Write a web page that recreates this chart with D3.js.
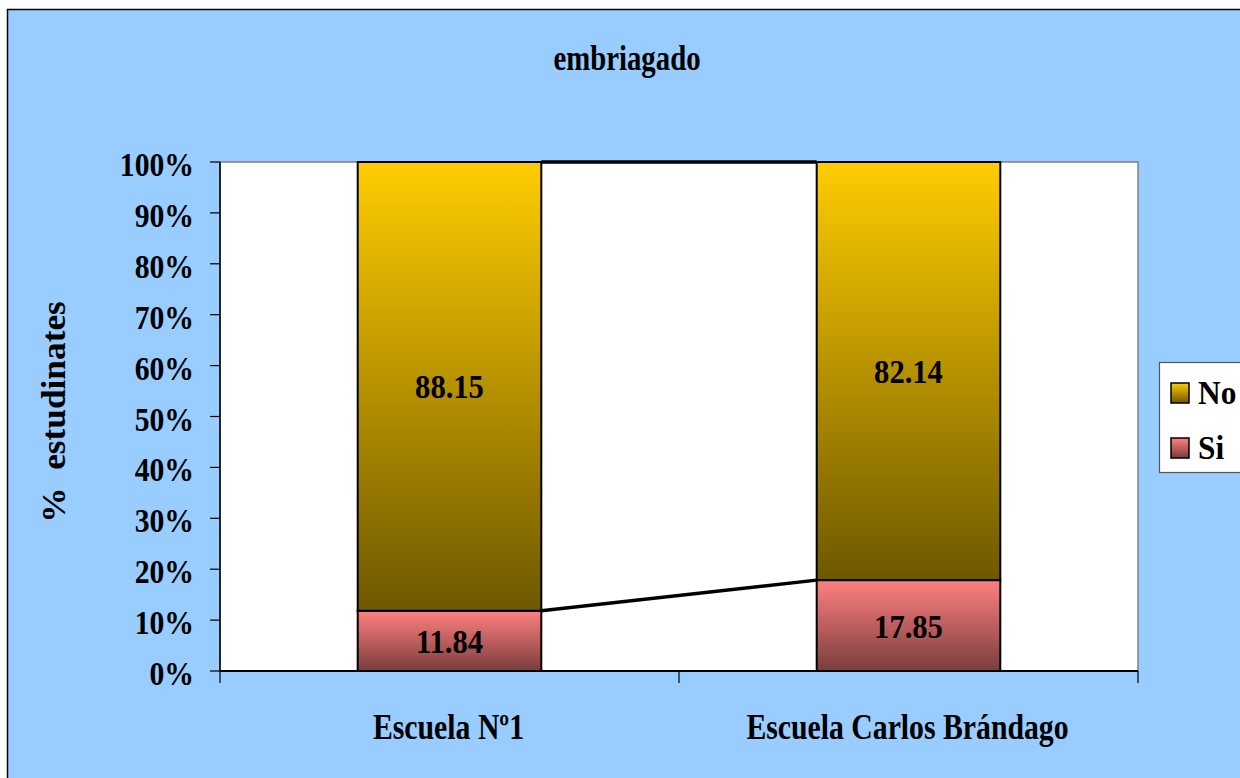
<!DOCTYPE html>
<html>
<head>
<meta charset="utf-8">
<script src="https://cdn.jsdelivr.net/npm/d3@7"></script>
<style>
  html, body { margin: 0; padding: 0; background: #ffffff; }
  svg { display: block; }
  text { font-family: "Liberation Serif", "Times New Roman", serif; font-weight: bold; fill: #000; }
</style>
</head>
<body>
<svg id="chart" width="1240" height="778"></svg>
<script>
// Chart data
const categories = ["Escuela Nº1", "Escuela Carlos Brándago"];
const seriesNames = ["Si", "No"];            // stacking order, bottom to top
const siValues = [11.84, 17.85];
const noValues = [88.15, 82.14];
const yTicks = [0, 0.1, 0.2, 0.3, 0.4, 0.5, 0.6, 0.7, 0.8, 0.9, 1.0];
const legendOrder = ["No", "Si"];
const titleText = "embriagado";
const yAxisTitle = "%  estudinates";

const svg = d3.select("#chart");

// Chart area background and frame
svg.append("rect")
  .attr("x", 7.5).attr("y", 9.5)
  .attr("width", 1260).attr("height", 800)
  .attr("fill", "#99CCFF").attr("stroke", "#000").attr("stroke-width", 1.5);

const plot = { left: 220, right: 1138, top: 162, bottom: 671 };

// Gradients per series (light at top, dark shade at bottom)
const defs = svg.append("defs");
const gradColors = { No: ["#FFCC00", "#6E5800"], Si: ["#FF8080", "#7A3D3D"] };
Object.entries(gradColors).forEach(([k, c]) => {
  const g = defs.append("linearGradient").attr("id", "grad-" + k)
    .attr("x1", 0).attr("y1", 0).attr("x2", 0).attr("y2", 1);
  g.append("stop").attr("offset", "0%").attr("stop-color", c[0]);
  g.append("stop").attr("offset", "100%").attr("stop-color", c[1]);
});

// Plot area
svg.append("rect")
  .attr("x", plot.left).attr("y", plot.top)
  .attr("width", plot.right - plot.left).attr("height", plot.bottom - plot.top)
  .attr("fill", "#fff").attr("stroke", "#808080").attr("stroke-width", 1.5);

const x = d3.scaleBand().domain(categories)
  .range([plot.left, plot.right]).paddingInner(0.6).paddingOuter(0.3);
const xOuter = d3.scaleBand().domain(categories).range([plot.left, plot.right]);
const y = d3.scaleLinear().domain([0, 1]).range([plot.bottom, plot.top]);

// 100% stacked layout
const rows = categories.map((c, i) => ({ cat: c, Si: siValues[i], No: noValues[i] }));
const stacked = d3.stack().keys(seriesNames).offset(d3.stackOffsetExpand)(rows);

// Series lines between adjacent bars
const lineLayer = svg.append("g");
stacked.forEach(s => {
  for (let i = 0; i < s.length - 1; i++) {
    lineLayer.append("line")
      .attr("x1", x(categories[i]) + x.bandwidth())
      .attr("y1", y(s[i][1]))
      .attr("x2", x(categories[i + 1]))
      .attr("y2", y(s[i + 1][1]))
      .attr("stroke", "#000").attr("stroke-width", 3.5);
  }
});

// Bars
stacked.forEach(s => {
  const g = svg.append("g");
  g.selectAll("rect").data(s).join("rect")
    .attr("x", d => x(d.data.cat))
    .attr("y", d => y(d[1]))
    .attr("width", x.bandwidth())
    .attr("height", d => y(d[0]) - y(d[1]))
    .attr("fill", `url(#grad-${s.key})`)
    .attr("stroke", "#000").attr("stroke-width", 2);
  // Value labels
  g.selectAll("text").data(s).join("text")
    .attr("transform", d => `translate(${x(d.data.cat) + x.bandwidth() / 2},${(y(d[0]) + y(d[1])) / 2 + 12}) scale(0.9,1)`)
    .attr("text-anchor", "middle")
    .style("font-size", "34px")
    .text(d => d3.format(".2f")(d.data[s.key]));
});

// Y axis
const yAxis = svg.append("g");
yAxis.append("line")
  .attr("x1", plot.left).attr("x2", plot.left)
  .attr("y1", plot.top).attr("y2", plot.bottom)
  .attr("stroke", "#000").attr("stroke-width", 1.5);
yTicks.forEach(t => {
  yAxis.append("line")
    .attr("x1", plot.left - 10).attr("x2", plot.left)
    .attr("y1", y(t)).attr("y2", y(t))
    .attr("stroke", "#000").attr("stroke-width", 1.2);
  yAxis.append("text")
    .attr("transform", `translate(194,${y(t) + 14}) scale(0.9,1)`)
    .attr("text-anchor", "end")
    .style("font-size", "33px")
    .text(d3.format(".0%")(t));
});

// X axis
const xAxis = svg.append("g");
xAxis.append("line")
  .attr("x1", plot.left).attr("x2", plot.right)
  .attr("y1", plot.bottom).attr("y2", plot.bottom)
  .attr("stroke", "#000").attr("stroke-width", 2);
const xEdges = categories.map(c => xOuter(c)).concat([plot.right]);
xEdges.forEach(v => {
  xAxis.append("line")
    .attr("x1", v).attr("x2", v)
    .attr("y1", plot.bottom).attr("y2", plot.bottom + 12)
    .attr("stroke", "#000").attr("stroke-width", 1.2);
});
categories.forEach(c => {
  xAxis.append("text")
    .attr("transform", `translate(${xOuter(c) + xOuter.bandwidth() / 2 - 1},739) scale(0.85,1)`)
    .attr("text-anchor", "middle")
    .style("font-size", "35px")
    .text(c);
});

// Title
svg.append("text")
  .attr("transform", "translate(627,70) scale(0.8,1)")
  .attr("text-anchor", "middle")
  .style("font-size", "36px")
  .text(titleText);

// Y axis title
svg.append("text")
  .attr("transform", "translate(65,412) rotate(-90) scale(1.07,1)")
  .attr("text-anchor", "middle")
  .style("font-size", "33px")
  .style("white-space", "pre")
  .attr("xml:space", "preserve")
  .text(yAxisTitle);

// Legend
const legend = svg.append("g");
legend.append("rect")
  .attr("x", 1159.5).attr("y", 362.5).attr("width", 120).attr("height", 110)
  .attr("fill", "#fff").attr("stroke", "#555").attr("stroke-width", 1.2);
legendOrder.forEach((k, i) => {
  const top = 383 + i * 55;
  legend.append("rect")
    .attr("x", 1171).attr("y", top).attr("width", 18).attr("height", 20)
    .attr("fill", `url(#grad-${k})`).attr("stroke", "#000").attr("stroke-width", 1.5);
  legend.append("text")
    .attr("transform", `translate(1198,${top + 21}) scale(0.95,1)`)
    .style("font-size", "33px")
    .text(k);
});
</script>
</body>
</html>
